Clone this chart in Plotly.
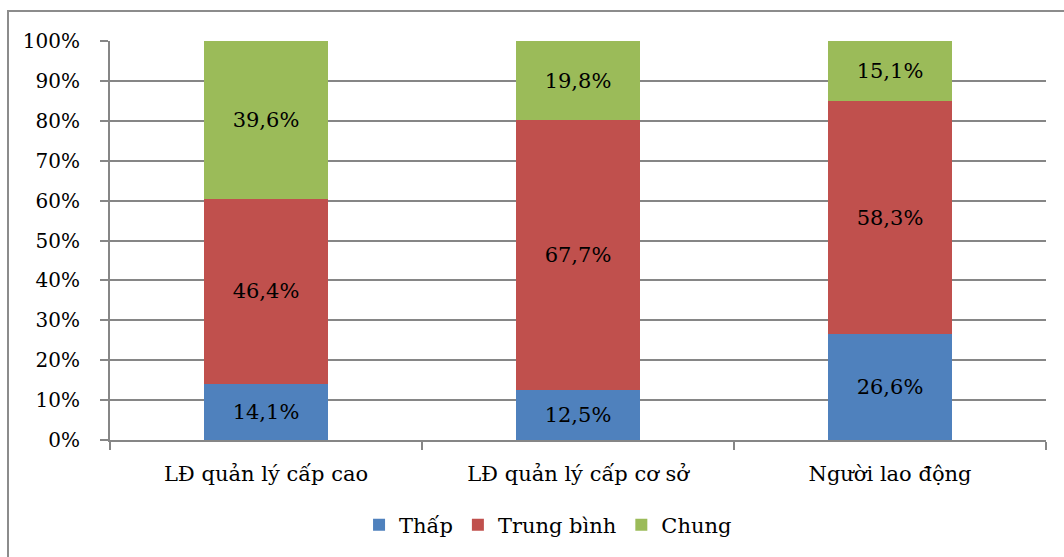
import plotly.graph_objects as go

categories = ["LĐ quản lý cấp cao", "LĐ quản lý cấp cơ sở", "Người lao động"]
thap = [14.1, 12.5, 26.6]
trung_binh = [46.4, 67.7, 58.3]
chung = [39.6, 19.8, 15.1]
tick_values = [0, 10, 20, 30, 40, 50, 60, 70, 80, 90, 100]
tick_labels = [f"{v}%" for v in tick_values]

series = [
    ("Thấp", thap, "#4F81BD"),
    ("Trung bình", trung_binh, "#C0504D"),
    ("Chung", chung, "#9BBB59"),
]

FONT = "DejaVu Serif"
GRID = "#868686"
SIZE = 21

fig = go.Figure()
for name, vals, color in series:
    fig.add_trace(go.Bar(
        name=name,
        x=categories,
        y=vals,
        marker=dict(color=color, line=dict(width=0)),
        text=[f"{v:.1f}%".replace(".", ",") for v in vals],
        textposition="inside",
        insidetextanchor="middle",
        textangle=0,
        textfont=dict(family=FONT, size=SIZE, color="black"),
        hoverinfo="skip",
    ))

fig.update_layout(
    width=1064,
    height=557,
    barmode="stack",
    bargap=0.603,
    margin=dict(l=110, r=18, t=41, b=117),
    paper_bgcolor="white",
    plot_bgcolor="white",
    font=dict(family=FONT, size=SIZE, color="black"),
    showlegend=True,
    legend=dict(
        orientation="h",
        x=0.468, xanchor="center",
        y=-0.213, yanchor="middle",
        font=dict(family=FONT, size=SIZE, color="black"),
        itemsizing="constant",
        traceorder="normal",
    ),
    uniformtext=dict(minsize=SIZE, mode="show"),
)

fig.update_xaxes(
    type="category",
    showgrid=False,
    showline=True,
    linecolor=GRID,
    linewidth=2,
    ticks="outside",
    tickson="boundaries",
    ticklen=8,
    tickcolor=GRID,
    tickwidth=2,
    ticklabelstandoff=14,
    tickfont=dict(family=FONT, size=SIZE, color="black"),
)

fig.update_yaxes(
    range=[0, 100],
    tickmode="array",
    tickvals=tick_values,
    ticktext=tick_labels,
    showgrid=True,
    gridcolor=GRID,
    gridwidth=2,
    zeroline=False,
    showline=True,
    linecolor=GRID,
    linewidth=2,
    ticks="outside",
    ticklen=8,
    tickcolor=GRID,
    tickwidth=2,
    ticklabelstandoff=16,
    tickfont=dict(family=FONT, size=20, color="black"),
)

# Outer chart frame
fig.add_shape(
    type="rect",
    xref="paper", yref="paper",
    x0=(8 - 110) / 936, x1=(1085 - 110) / 936,
    y0=-(117 + 30) / 399, y1=1 + 30 / 399,
    line=dict(color="#8C8C8C", width=2),
    fillcolor="rgba(0,0,0,0)",
    layer="below",
)

fig.write_html("out.html")
